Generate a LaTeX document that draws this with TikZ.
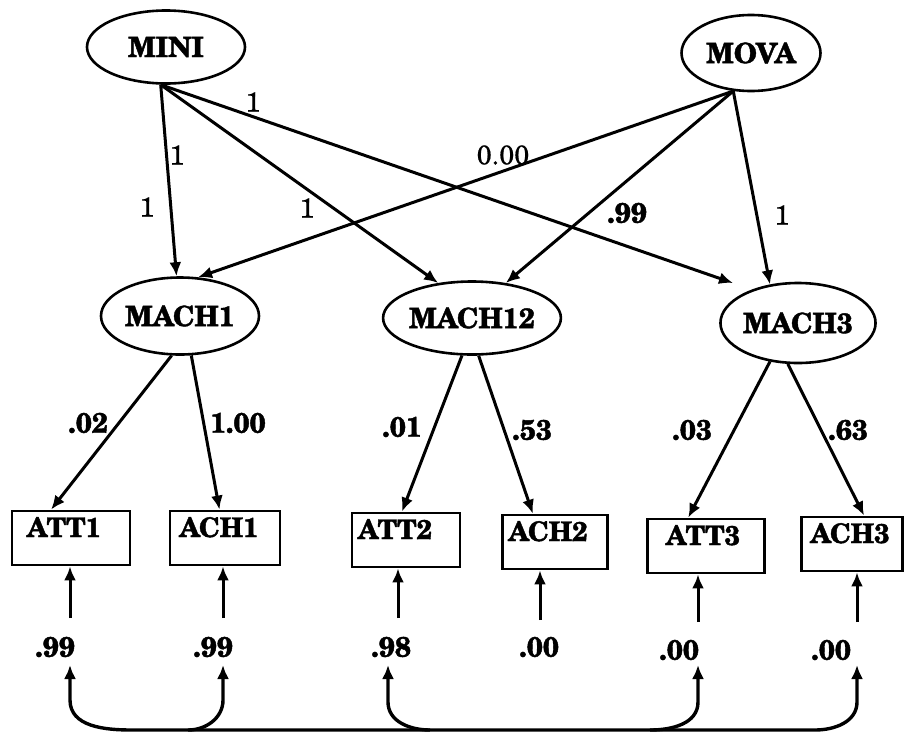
\documentclass[tikz,border=0pt]{standalone}
\usepackage{fontspec}
\setmainfont{texgyreschola}[Extension=.otf, UprightFont=*-regular, BoldFont=*-bold, ItalicFont=*-italic, BoldItalicFont=*-bolditalic, BoldFeatures={FakeBold=1.5}, UprightFeatures={FakeBold=0.6}]
\usetikzlibrary{shapes.geometric,arrows.meta}
\begin{document}
\begin{tikzpicture}[x=1pt,y=-1pt,
  lat/.style={ellipse, draw, line width=2.6pt, inner sep=0pt, font=\fontsize{28}{30}\selectfont\bfseries},
  obs/.style={rectangle, draw, line width=2.8pt, inner xsep=4pt, inner ysep=4pt,
     text height=22pt, text depth=24pt, font=\fontsize{27}{30}\selectfont\bfseries},
  ar/.style={line width=3pt, -{Latex[length=14pt,width=12pt]}},
  lab/.style={inner sep=0pt, font=\fontsize{28}{30}\selectfont\bfseries},
  labr/.style={inner sep=0pt, font=\fontsize{27}{28}\selectfont},
]
\useasboundingbox[fill=white] (0,0) rectangle (904,745);

% latent variables
\node[lat, minimum width=158pt, minimum height=73pt] (mini)   at (166,47)  {MINI};
\node[lat, minimum width=139pt, minimum height=76pt] (mova)   at (751,53)  {MOVA};
\node[lat, minimum width=158pt, minimum height=77pt] (mach1)  at (180,316) {MACH1};
\node[lat, minimum width=155pt, minimum height=73pt] (mach12) at (472,318) {MACH12};
\node[lat, minimum width=150pt, minimum height=80pt] (mach3)  at (798,323) {MACH3};

% observed variables
\node[obs, minimum width=118pt] (att1) at (71,538)  {ATT1\kern14pt};
\node[obs, minimum width=110pt] (ach1) at (225,538) {ACH1\kern12pt};
\node[obs, minimum width=108pt] (att2) at (406,540) {ATT2\kern22pt};
\node[obs, minimum width=105pt] (ach2) at (555,542) {ACH2\kern14pt};
\node[obs, minimum width=117pt] (att3) at (706,546) {ATT3\kern6pt};
\node[obs, minimum width=101pt] (ach3) at (852,544) {ACH3\kern4pt};

% structural paths
\coordinate (m3in) at (733,283);
\draw[ar] (mini.262) -- (mach1.95);
\draw[ar] (mini.262) -- (mach12.134);
\draw[ar] (mini.262) -- (m3in);
\draw[ar] (mova.245) -- (mach1.65);
\draw[ar] (mova.245) -- (mach12.46);
\draw[ar] (mova.245) -- (mach3.126);

\node[labr] (l1) at (253,102) {1};
\node[labr] (l2) at (177,155) {1};
\node[labr] (l3) at (147,207) {1};
\node[labr] (l4) at (307,208) {1};
\node[labr] (l5) at (503,155) {0.00};
\node[lab]  (l6) at (627,213) {.99};
\node[labr] (l7) at (782,215) {1};

% loadings
\draw[ar] (mach1.258) -- (att1.125);
\draw[ar] (mach1.286) -- (ach1.101);
\draw[ar] (mach12.255) -- (att2.98);
\draw[ar] (mach12.280) -- (ach2.128);
\draw[ar] (mach3.234) -- (att3.122);
\draw[ar] (mach3.256) -- (ach3.67);

\node[lab] (k1) at (88,423)  {.02};
\node[lab] (k2) at (238,423) {1.00};
\node[lab] (k3) at (402,427) {.01};
\node[lab] (k4) at (532,430) {.53};
\node[lab] (k5) at (692,430) {.03};
\node[lab] (k6) at (848,430) {.63};

% residuals
\coordinate (e1) at (70,618);
\coordinate (e2) at (223,618);
\coordinate (e3) at (398,618);
\coordinate (e4) at (540,620);
\coordinate (e5) at (698,622);
\coordinate (e6) at (857,622);
\draw[ar] (e1) -- (e1 |- att1.south);
\draw[ar] (e2) -- (e2 |- ach1.south);
\draw[ar] (e3) -- (e3 |- att2.south);
\draw[ar] (e4) -- (e4 |- ach2.south);
\draw[ar] (e5) -- (e5 |- att3.south);
\draw[ar] (e6) -- (e6 |- ach3.south);

\node[lab] (r1) at (55,647)  {.99};
\node[lab] (r2) at (213,647) {.99};
\node[lab] (r3) at (391,647) {.98};
\node[lab] (r4) at (539,647) {.00};
\node[lab] (r5) at (679,650) {.00};
\node[lab] (r6) at (831,650) {.00};

% correlated residuals
\coordinate (f1) at (70,665);
\coordinate (f2) at (223,665);
\coordinate (f3) at (388,665);
\coordinate (f5) at (698,665);
\coordinate (f6) at (857,665);
\draw[line width=3.4pt, {Latex[length=14pt,width=12pt]}-{Latex[length=14pt,width=12pt]}]
  (f1) -- (70,700) to[out=-90,in=180] (132,730) -- (815,730) to[out=0,in=-90] (857,702) -- (f6);
\draw[ar, line width=3.4pt] (188,730) to[out=0,in=-90] (223,700) -- (f2);
\draw[ar, line width=3.4pt] (430,730) to[out=180,in=-90] (388,702) -- (f3);
\draw[ar, line width=3.4pt] (650,730) to[out=0,in=-90] (698,702) -- (f5);
\end{tikzpicture}
\end{document}
